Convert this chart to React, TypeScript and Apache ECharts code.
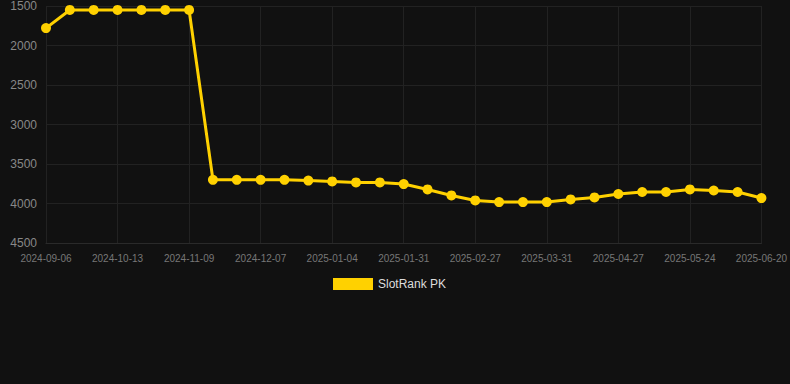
import React, { useEffect, useRef } from "react";
import * as echarts from "echarts";

const dates: string[] = [
  "2024-09-06", "2024-09-18", "2024-10-01", "2024-10-13", "2024-10-22", "2024-10-31",
  "2024-11-09", "2024-11-18", "2024-11-27", "2024-12-07", "2024-12-16", "2024-12-25",
  "2025-01-04", "2025-01-13", "2025-01-22", "2025-01-31", "2025-02-09", "2025-02-18",
  "2025-02-27", "2025-03-09", "2025-03-20", "2025-03-31", "2025-04-09", "2025-04-18",
  "2025-04-27", "2025-05-06", "2025-05-15", "2025-05-24", "2025-06-02", "2025-06-11",
  "2025-06-20",
];

const rankPK: number[] = [
  1780, 1550, 1550, 1550, 1550, 1550, 1550, 3700, 3700, 3700, 3700, 3710, 3720, 3733,
  3733, 3754, 3822, 3898, 3961, 3982, 3982, 3982, 3948, 3923, 3880, 3855, 3855, 3822,
  3835, 3855, 3931,
];

const seriesName = "SlotRank PK";

export default function App() {
  const ref = useRef<HTMLDivElement>(null);
  useEffect(() => {
    if (!ref.current) return;
    const chart = echarts.init(ref.current, null, { renderer: "svg" });
    chart.setOption({
      animation: false,
      backgroundColor: "#111111",
      grid: { left: 46, right: 28, top: 6, bottom: 141, containLabel: false },
      legend: {
        data: [seriesName],
        top: 278,
        left: 333,
        padding: 0,
        itemWidth: 40,
        itemHeight: 12,
        itemGap: 10,
        icon: "rect",
        textStyle: { color: "#dddddd", fontSize: 12, fontFamily: "Arial, Liberation Sans, sans-serif" },
      },
      xAxis: {
        type: "category",
        data: dates,
        boundaryGap: false,
        axisLine: { show: true, lineStyle: { color: "#2a2a2a" } },
        axisTick: { show: false },
        axisLabel: {
          interval: 2,
          color: "#777777",
          fontSize: 10,
          margin: 10,
          fontFamily: "Arial, Liberation Sans, sans-serif",
        },
        splitLine: { show: true, interval: 2, lineStyle: { color: "#222222" } },
      },
      yAxis: {
        type: "value",
        inverse: true,
        min: 1500,
        max: 4500,
        interval: 500,
        axisLine: { show: false },
        axisTick: { show: false },
        axisLabel: {
          color: "#888888",
          fontSize: 12,
          margin: 9,
          fontFamily: "Arial, Liberation Sans, sans-serif",
          formatter: (v: number) => String(v),
        },
        splitLine: { show: true, lineStyle: { color: "#222222" } },
      },
      series: [
        {
          name: seriesName,
          type: "line",
          data: rankPK,
          symbol: "circle",
          symbolSize: 10,
          showSymbol: true,
          lineStyle: { color: "#FFD100", width: 3 },
          itemStyle: { color: "#FFD100" },
        },
      ],
    });
    return () => chart.dispose();
  }, []);
  return (
    <div
      ref={ref}
      style={{ position: "fixed", left: 0, top: 0, width: 790, height: 384 }}
    />
  );
}
